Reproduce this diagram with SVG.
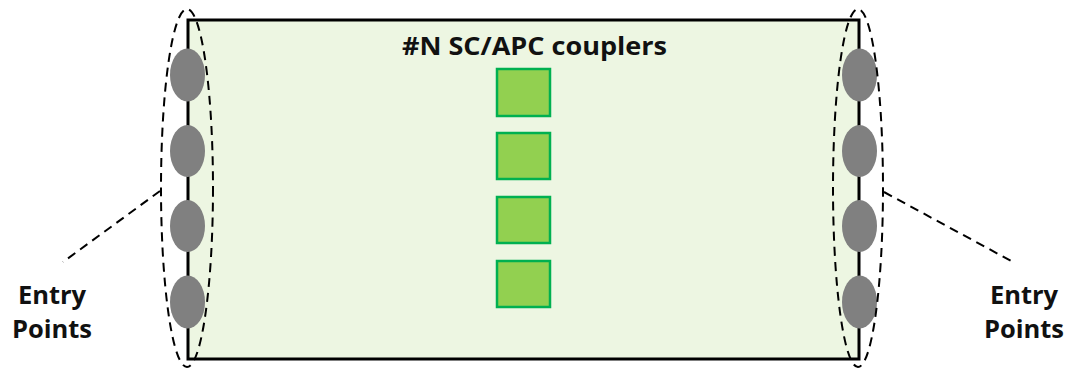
<svg xmlns="http://www.w3.org/2000/svg" width="1068" height="368" viewBox="0 0 1068 368">
<style>
.lbl{font-family:"Open Sans","Noto Sans","Liberation Sans",sans-serif;font-weight:bold;fill:#111;}
.port{fill:#808080;}
.cpl{fill:#92D050;stroke:#00B050;stroke-width:2.5;}
.dash{fill:none;stroke:#000;stroke-width:2;stroke-dasharray:9,6;}
</style>
<rect width="1068" height="368" fill="#fff"/>
<g id="panel">
<rect x="188" y="20" width="671" height="339" fill="#EDF6E2" stroke="#000" stroke-width="3"/>
<text class="lbl" x="402" y="55" font-size="24.5" textLength="265" lengthAdjust="spacingAndGlyphs">#N SC/APC couplers</text>
</g>
<g id="couplers">
<rect class="cpl" x="497" y="69" width="53" height="47"/>
<rect class="cpl" x="497" y="133" width="53" height="46"/>
<rect class="cpl" x="497" y="197" width="53" height="46"/>
<rect class="cpl" x="497" y="261" width="53" height="46"/>
</g>
<g id="left-ports">
<ellipse class="port" cx="187.5" cy="75" rx="17.5" ry="26.5"/>
<ellipse class="port" cx="187.5" cy="151" rx="17.5" ry="26"/>
<ellipse class="port" cx="187.5" cy="226" rx="17.5" ry="26"/>
<ellipse class="port" cx="187.5" cy="302" rx="17.5" ry="26.5"/>
<ellipse class="dash" cx="187" cy="188" rx="26" ry="179"/>
</g>
<g id="right-ports">
<ellipse class="port" cx="859.5" cy="75" rx="17.5" ry="26.5"/>
<ellipse class="port" cx="859.5" cy="151" rx="17.5" ry="26"/>
<ellipse class="port" cx="859.5" cy="226" rx="17.5" ry="26"/>
<ellipse class="port" cx="859.5" cy="302" rx="17.5" ry="26.5"/>
<ellipse class="dash" cx="858" cy="188" rx="25" ry="179"/>
</g>
<g id="connectors">
<line class="dash" x1="160" y1="191" x2="63" y2="262"/>
<line class="dash" x1="884" y1="192" x2="1013" y2="262"/>
</g>
<g id="label-left">
<text class="lbl" x="52" y="304" font-size="25.5" text-anchor="middle">Entry</text>
<text class="lbl" x="52" y="338" font-size="25.5" text-anchor="middle">Points</text>
</g>
<g id="label-right">
<text class="lbl" x="1024" y="304" font-size="25.5" text-anchor="middle">Entry</text>
<text class="lbl" x="1024" y="338" font-size="25.5" text-anchor="middle">Points</text>
</g>
</svg>
